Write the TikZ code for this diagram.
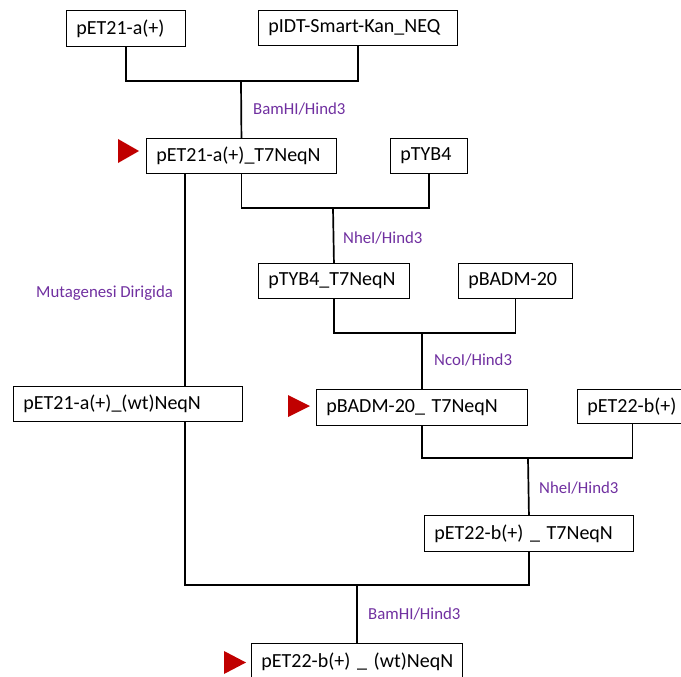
\documentclass[tikz,border=0pt]{standalone}
\usepackage{fontspec}
\setmainfont{Carlito}
\definecolor{lblpurple}{HTML}{7030A0}
\definecolor{mark}{HTML}{C00000}
\begin{document}
\begin{tikzpicture}[x=1pt,y=-1pt,
  box/.style={draw=black,line width=0.9pt,anchor=north west,inner xsep=10pt,inner ysep=0pt,
    font=\fontsize{20}{24}\selectfont,align=left},
  conn/.style={line width=1.7pt},
  lbl/.style={anchor=west,inner sep=0pt,text=lblpurple,font=\fontsize{16.8}{20}\selectfont},
  tri/.style={fill=mark,draw=none}]
\useasboundingbox (0,0) rectangle (681,677);
\newcommand{\bx}[6]{\node[box,text width=#4-20pt,minimum height=#5] (#1) at (#2,#3) {\mbox{#6}};}
\bx{A}{66}{10}{119pt}{36pt}{pET21-a(+)}
\bx{B}{258}{10}{199pt}{35pt}{pIDT-Smart-Kan\_NEQ}
\bx{C}{146}{138}{190pt}{35pt}{pET21-a(+)\_T7NeqN}
\bx{D}{390}{138}{77pt}{35pt}{pTYB4}
\bx{E}{258}{263}{151pt}{35pt}{pTYB4\_T7NeqN}
\bx{F}{458}{263}{114pt}{35pt}{pBADM-20}
\bx{G}{13}{386}{229pt}{35pt}{pET21-a(+)\_(wt)NeqN}
\bx{H}{316}{389}{211pt}{36pt}{pBADM-20\_ T7NeqN}
\bx{I}{577}{389}{110pt}{34pt}{pET22-b(+)}
\bx{J}{424}{515}{209pt}{36pt}{pET22-b(+) \_ T7NeqN}
\bx{K}{251}{643}{211pt}{37pt}{pET22-b(+) \_ (wt)NeqN}
% junctions
\coordinate (j1) at (241,81);
\coordinate (j2) at (333,208);
\coordinate (j3) at (422,333);
\coordinate (j4) at (528,458);
\coordinate (j5) at (357,585);
\coordinate (x185) at (185,0);
% connectors
\draw[conn] (A.south) |- (j1) -| (B.south);
\draw[conn] (j1) -- (C.north);
\draw[conn] (C.south) |- (j2) -| (D.south);
\draw[conn] (j2) -- (E.north);
\draw[conn] (E.south) |- (j3) -| (F.south);
\draw[conn] (j3) -- (H.north);
\draw[conn] (H.south) |- (j4) -| (I.south);
\draw[conn] (j4) -- (J.north);
\draw[conn] (C.south -| x185) -- (G.north -| x185);
\draw[conn] (G.south -| x185) |- (j5) -| (J.south);
\draw[conn] (j5) -- (K.north);
% labels
\node[lbl] (l1) at (253,109) {BamHI/Hind3};
\node[lbl] (l2) at (343,238) {NheI/Hind3};
\node[lbl] (l3) at (434,360) {NcoI/Hind3};
\node[lbl] (l4) at (36,293) {Mutagenesi Dirigida};
\node[lbl] (l5) at (539,488) {NheI/Hind3};
\node[lbl] (l6) at (368,614) {BamHI/Hind3};
% markers
\fill[tri] (118,139) -- (118,163) -- (139,151) -- cycle;
\fill[tri] (288,395) -- (288,417) -- (310,406) -- cycle;
\fill[tri] (224,651) -- (224,674) -- (246,662.5) -- cycle;
\end{tikzpicture}
\end{document}
